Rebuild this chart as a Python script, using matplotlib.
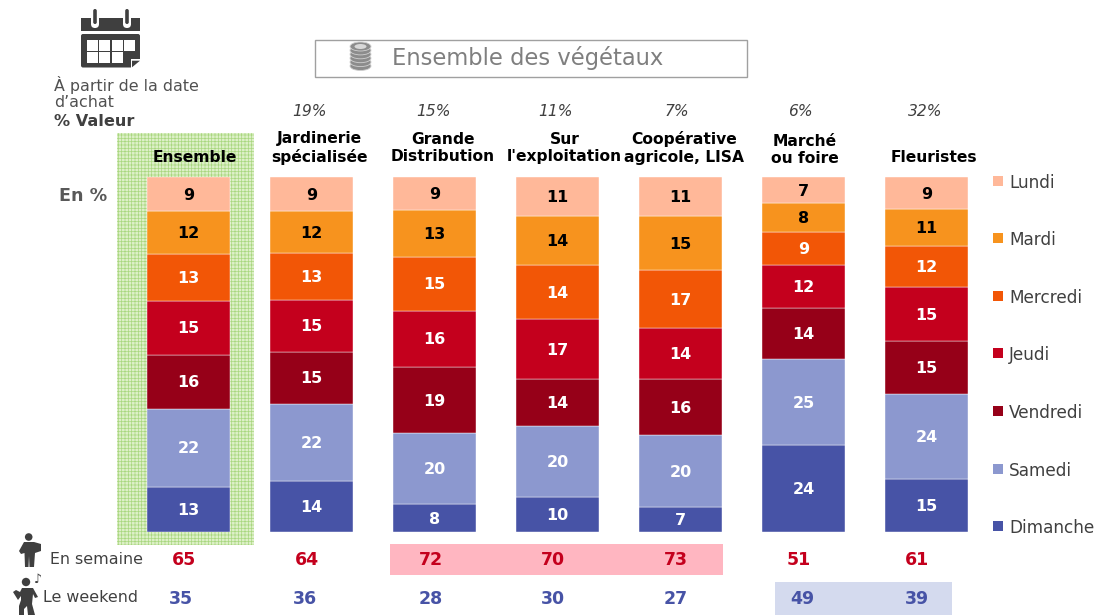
import numpy as np
import matplotlib
matplotlib.use('Agg')
from matplotlib import pyplot as plt
from matplotlib.patches import Rectangle, FancyBboxPatch, Circle, Ellipse, Polygon

plt.rcParams['font.family'] = ['DejaVu Sans']
plt.rcParams['hatch.linewidth'] = 0.5

W = 1097
H = 616

# data
days = ['Lundi', 'Mardi', 'Mercredi', 'Jeudi', 'Vendredi', 'Samedi', 'Dimanche']
colors = ['#FFB899', '#F7931E', '#F25606', '#C4001D', '#960018', '#8C98CF', '#4753A6']
label_colors = ['black', 'black', 'white', 'white', 'white', 'white', 'white']
channels = ['Ensemble', 'Jardinerie\nspécialisée', 'Grande\nDistribution', 'Sur\nl\'exploitation',
            'Coopérative\nagricole, LISA', 'Marché\nou foire', 'Fleuristes']
shares = ['', '19%', '15%', '11%', '7%', '6%', '32%']
# printed labels
lundi = [9, 9, 9, 11, 11, 7, 9]
mardi = [12, 12, 13, 14, 15, 8, 11]
mercredi = [13, 13, 15, 14, 17, 9, 12]
jeudi = [15, 15, 16, 17, 14, 12, 15]
vendredi = [16, 15, 19, 14, 16, 14, 15]
samedi = [22, 22, 20, 20, 20, 25, 24]
dimanche = [13, 14, 8, 10, 7, 24, 15]
# segment sizes, estimated from the height of each segment
lundi_h = [9.6, 9.6, 9.3, 11.0, 11.0, 7.3, 9.0]
mardi_h = [12.1, 11.8, 13.2, 13.8, 15.2, 8.2, 10.4]
mercredi_h = [13.2, 13.2, 15.2, 15.2, 16.3, 9.3, 11.5]
jeudi_h = [15.2, 14.6, 15.8, 16.9, 14.4, 12.1, 15.2]
vendredi_h = [15.2, 14.6, 18.6, 13.2, 15.8, 14.4, 14.9]
samedi_h = [22.0, 21.7, 20.0, 20.0, 20.3, 24.2, 23.9]
dimanche_h = [12.7, 14.4, 7.9, 9.9, 7.0, 24.5, 14.9]
semaine = [65, 64, 72, 70, 73, 51, 61]
weekend = [35, 36, 28, 30, 27, 49, 39]

fig = plt.figure(figsize=(W / 100, H / 100), dpi=100, facecolor='white')

# full page axes in pixels, for everything around the bars
page = fig.add_axes([0, 0, 1, 1])
page.set_xlim(0, W)
page.set_ylim(H, 0)
page.axis('off')

# axes of the bars: 83px wide bars, 123px apart
bar_left = 188.5 - 123 / 2
bar_top = 177
bar_bottom = 532
ax = fig.add_axes([bar_left / W, 1 - bar_bottom / H, 123 * 7 / W, (bar_bottom - bar_top) / H])
ax.patch.set_alpha(0)
ax.set_xlim(-0.5, 6.5)
ax.set_ylim(0, 100)
ax.axis('off')

x = np.arange(7)
labels = np.array([dimanche, samedi, vendredi, jeudi, mercredi, mardi, lundi])
series = np.array([dimanche_h, samedi_h, vendredi_h, jeudi_h, mercredi_h, mardi_h, lundi_h])
totals = series.sum(axis=0)
bottom = np.zeros(7)
for i, row in enumerate(series):
    part = row / totals * 100
    day = 6 - i
    ax.bar(x, part, 83 / 123, bottom=bottom, color=colors[day], edgecolor='white', linewidth=0.3)
    for j in range(7):
        ax.text(x[j], bottom[j] + part[j] / 2 - 0.3, '%d' % labels[i][j], ha='center', va='center',
                fontsize=11.5, fontweight='bold', color=label_colors[day])
    bottom += part

# green band behind Ensemble
page.add_patch(Rectangle((117, 133), 137, 412, facecolor='#DDF0C8', edgecolor='#A9D77F',
                         hatch='+++++', linewidth=0))

# title box
page.add_patch(Rectangle((314.5, 39.5), 432, 37, facecolor='white', edgecolor='#A0A0A0', linewidth=1))
page.text(528, 58, 'Ensemble des végétaux', ha='center', va='center', fontsize=16.3, color='#7F7F7F')
for k in range(6):
    page.add_patch(Ellipse((360.5, 66 - k * 3.9), 21, 9, facecolor='#8C8C8C', edgecolor='#D0D0D0', linewidth=0.6))
page.add_patch(Ellipse((360.5, 46.5), 12, 5, facecolor='#D8D8D8', linewidth=0))

# calendar icon
ic = '#3F3F3F'
page.add_patch(Rectangle((81, 18), 59, 13, facecolor=ic, linewidth=0))
page.add_patch(FancyBboxPatch((81, 34), 59, 33.5, boxstyle='round,pad=0,rounding_size=2', facecolor=ic, linewidth=0))
page.add_patch(Rectangle((131, 59), 10, 9.5, facecolor='white', linewidth=0))
page.add_patch(Polygon([[132, 67.3], [140, 60.7], [132, 60.7]], facecolor=ic, linewidth=0))
for cx in [95, 127]:
    page.add_patch(FancyBboxPatch((cx - 4, 14), 8, 14, boxstyle='round,pad=0,rounding_size=4', facecolor='white', linewidth=0))
    page.add_patch(FancyBboxPatch((cx - 1.8, 9), 3.6, 15, boxstyle='round,pad=0,rounding_size=1.8', facecolor=ic, linewidth=0))
for cell in [(87, 40), (99, 40), (112, 40), (124, 40), (87, 52), (99, 52), (112, 52)]:
    page.add_patch(Rectangle(cell, 11, 11, facecolor='white', linewidth=0))

page.text(54, 85, 'À partir de la date', ha='left', va='center', fontsize=11.4, color='#505050')
page.text(54, 102.5, 'd’achat', ha='left', va='center', fontsize=11.4, color='#505050')
page.text(54, 121, '% Valeur', ha='left', va='center', fontsize=11.6, fontweight='bold', color='#404040')
page.text(83, 196, 'En %', ha='center', va='center', fontsize=12.6, fontweight='bold', color='#595959')

# channel headers and shares
centers = 188.5 + x * 123
head_dx = [6, 8, 8, 7, 4, 1, 7]
head_y = [157, 148, 148, 148, 148, 150, 157]
share_x = [0, 309.5, 433, 555, 677, 800, 925]
for j in range(7):
    page.text(centers[j] + head_dx[j], head_y[j], channels[j], ha='center', va='center', fontsize=11.2,
              fontweight='bold', color='black', linespacing=1.2)
    page.text(share_x[j], 112, shares[j], ha='center', va='center', fontsize=11.2,
              style='italic', color='#404040')

# legend
for i, day in enumerate(days):
    y = 182.5 + i * 57.6
    page.add_patch(Rectangle((993, y - 7), 10, 10, facecolor=colors[i], linewidth=0))
    page.text(1009, y, day, ha='left', va='center', fontsize=12.2, color='#404040')

# bottom rows
page.add_patch(Rectangle((390, 544), 333, 31, facecolor='#FFB6C1', linewidth=0))
page.add_patch(Rectangle((775, 582), 177, 33, facecolor='#D4DAEE', linewidth=0))
page.text(50, 560, 'En semaine', ha='left', va='center', fontsize=11.4, color='#404040')
page.text(43, 598, 'Le weekend', ha='left', va='center', fontsize=11.4, color='#404040')
semaine_x = [184, 307, 431, 553, 676, 799, 917]
weekend_x = [181, 305, 431, 553, 676, 802, 917]
for j in range(7):
    page.text(semaine_x[j], 560, str(semaine[j]), ha='center', va='center', fontsize=12.5,
              fontweight='bold', color='#C4001D')
    page.text(weekend_x[j], 599, str(weekend[j]), ha='center', va='center', fontsize=12.5,
              fontweight='bold', color='#4753A6')

# man with folder
page.add_patch(Circle((28.7, 537), 3.8, facecolor=ic, linewidth=0))
page.add_patch(Polygon([[19, 551], [24, 542], [34, 542], [41, 544], [41, 551], [35, 553], [34, 567],
                        [29.5, 567], [29, 556], [28.5, 567], [25, 567], [24.5, 553], [21, 554]],
                       facecolor=ic, linewidth=0))
# dancing man
page.add_patch(Circle((26, 582), 4.2, facecolor=ic, linewidth=0))
page.add_patch(Polygon([[13, 592], [16, 590], [20, 592], [22, 588], [33, 588], [38, 597], [35, 598], [33, 594],
                        [32, 604], [35, 615], [28, 615], [27, 606], [24, 609], [24, 615], [19, 615],
                        [19, 606], [21, 600], [21, 596], [18, 600]],
                       facecolor=ic, linewidth=0))
page.text(38, 579, '♪', ha='center', va='center', fontsize=9, color=ic)

fig.savefig('out.png', dpi=100)
